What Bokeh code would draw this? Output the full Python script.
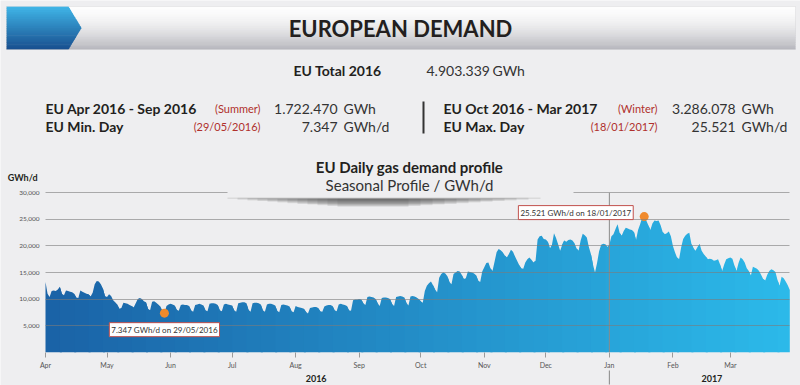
import pandas as pd
from bokeh.plotting import figure
from bokeh.models import (Range1d, FixedTicker, NumeralTickFormatter, DatetimeTickFormatter,
                          Label, BoxAnnotation, PolyAnnotation, ColumnDataSource)
from bokeh.embed import file_html
from bokeh.resources import INLINE

# ---------------- data (GWh/d, daily, from 1 Apr 2016) ----------------
start_date = "2016-04-01"
demand_apr = [13200, 11000, 10400, 11500, 11600, 11500, 11800, 12300, 11000, 10700,
              11600, 11500, 11400, 11300, 11000, 10300, 10200, 11600, 11400, 11200,
              11000, 10900, 10500, 11200, 12800, 13400, 13300, 12800, 12000, 10600]
demand_may = [10400, 10900, 10600, 9800, 9400, 9000, 8200, 8300, 9300, 9200,
              9100, 8900, 8700, 8400, 9200, 10000, 10200, 10000, 9600, 9400,
              8200, 7900, 9500, 9600, 9300, 9000, 8600, 7700, 7347, 8700, 9000]
demand_jun = [9100, 9000, 8800, 8000, 7800, 8900, 9000, 8900, 8900, 8700,
              7900, 7600, 8900, 9000, 9100, 9000, 8800, 7900, 7700, 9100,
              9200, 9200, 9100, 8900, 7900, 7700, 9000, 9100, 9000, 8900]
demand_jul = [8800, 7900, 7600, 9200, 9300, 9400, 9400, 9200, 8000, 7600,
              9200, 9300, 9300, 9200, 9000, 7900, 7600, 9000, 9100, 9100,
              9000, 8800, 7800, 7500, 8900, 9000, 8900, 8800, 8600, 7700, 7500]
demand_aug = [8700, 8500, 8400, 8300, 8200, 7600, 7300, 8300, 8400, 8500,
              8500, 8300, 7700, 7600, 8600, 8800, 8900, 8900, 8700, 7900,
              7700, 9000, 9100, 9000, 8900, 8700, 7900, 7800, 9800, 9900, 9900]
demand_sep = [10000, 9900, 9200, 8900, 10400, 10500, 10400, 10300, 10000, 9200,
              8700, 10200, 10300, 10300, 10200, 10000, 9100, 8700, 10400, 10500,
              10600, 10500, 10300, 9300, 8800, 10500, 10600, 10500, 10300, 10000]
demand_oct = [9600, 9300, 11500, 12500, 13000, 13300, 12600, 11800, 11300, 14000,
              14700, 15000, 14800, 14300, 13200, 12800, 14700, 15000, 15300, 15200,
              14600, 13800, 13900, 15200, 15100, 15000, 14800, 14500, 13500, 13200, 15200]
demand_nov = [16000, 16800, 16900, 15800, 15300, 17000, 18800, 19400, 19200, 18800,
              18200, 17800, 18500, 19300, 18900, 18000, 17200, 16400, 15800, 15700,
              16900, 17500, 17800, 17400, 16900, 17200, 21200, 21800, 21900, 21300]
demand_dec = [21200, 20800, 19500, 20200, 22400, 21500, 20300, 19100, 20200, 21000,
              20800, 21100, 21200, 21000, 20500, 19500, 19100, 21000, 22300, 22000,
              21600, 19800, 18500, 16500, 15000, 16800, 19000, 20200, 20400, 20300, 19800]
demand_jan = [20200, 21800, 22200, 23200, 24100, 22500, 21900, 22800, 23400, 23300,
              23100, 23000, 22600, 21100, 23000, 24100, 25300, 25521, 24800, 23900,
              23000, 24200, 24800, 24700, 24800, 23900, 22600, 22200, 22400, 22700, 21800]
demand_feb = [20000, 18800, 17800, 17500, 19700, 21300, 21900, 22300, 22500, 20400,
              19600, 19100, 19800, 20400, 19100, 18500, 18000, 17500, 17600, 17500,
              17200, 17300, 17500, 16500, 15300, 16500, 17500, 17700]
demand_mar = [17800, 17600, 16300, 15300, 16800, 17800, 17500, 16900, 15800, 15300,
              14400, 16100, 15900, 15700, 15300, 14600, 13800, 13500, 14600, 15300,
              15600, 15400, 15100, 13600, 12500, 14200, 13900, 13300, 12600, 11700]

y_ticks = [5000, 10000, 15000, 20000, 25000, 30000]
month_tick_dates = ["2016-04-01", "2016-05-01", "2016-06-01", "2016-07-01", "2016-08-01",
                    "2016-09-01", "2016-10-01", "2016-11-01", "2016-12-01", "2017-01-01",
                    "2017-02-01", "2017-03-01"]
year_labels = ["2016", "2017"]
year_label_dates = ["2016-08-11", "2017-02-20"]
year_break = "2017-01-01"

max_date, max_value = "2017-01-18", 25521
min_date, min_value = "2016-05-29", 7347
max_text = "25.521 GWh/d on 18/01/2017"
min_text = "7.347 GWh/d on 29/05/2016"

header_title = "EUROPEAN DEMAND"
total_label, total_value, total_unit = "EU Total 2016", "4.903.339", "GWh"
summer_label, summer_tag, summer_value, summer_unit = "EU Apr 2016 - Sep 2016", "(Summer)", "1.722.470", "GWh"
minday_label, minday_tag, minday_value, minday_unit = "EU Min. Day", "(29/05/2016)", "7.347", "GWh/d"
winter_label, winter_tag, winter_value, winter_unit = "EU Oct 2016 - Mar 2017", "(Winter)", "3.286.078", "GWh"
maxday_label, maxday_tag, maxday_value, maxday_unit = "EU Max. Day", "(18/01/2017)", "25.521", "GWh/d"
chart_title = "EU Daily gas demand profile"
chart_subtitle = "Seasonal Profile / GWh/d"
y_unit = "GWh/d"

demand = (demand_apr + demand_may + demand_jun + demand_jul + demand_aug + demand_sep +
          demand_oct + demand_nov + demand_dec + demand_jan + demand_feb + demand_mar)
dates = pd.date_range(start_date, periods=len(demand), freq="D")


def ms(d):
    return pd.Timestamp(d).value / 1e6


# ---------------- layout ----------------
BG = "#eeeef0"
FONT = "Lato"
DARK = "#231f20"
TXT = "#333333"
RED = "#b0302c"
W, H = 800, 385
# pixel positions of the chart's data extent inside the canvas
PX_L, PX_R = 45.0, 789.3     # first / last day
PY_B, PY_T = 351.7, 192.3    # 0 / 30000

x0, x1 = ms(dates[0]), ms(dates[-1])
xs_per_px = (x1 - x0) / (PX_R - PX_L)
ys_per_px = y_ticks[-1] / (PY_B - PY_T)

p = figure(width=W, height=H, x_axis_type="datetime", output_backend="svg",
           toolbar_location=None,
           x_range=Range1d(x0 - PX_L * xs_per_px, x1 + (W - PX_R) * xs_per_px),
           y_range=Range1d(-(H - PY_B) * ys_per_px, y_ticks[-1] + PY_T * ys_per_px),
           min_border_left=0, min_border_right=0, min_border_top=0, min_border_bottom=0,
           background_fill_color=BG, border_fill_color=BG, outline_line_color=None)
p.xgrid.visible = False
p.ygrid.visible = False


def sx(X):
    return X


def sy(Y):
    return H - Y


# area with horizontal colour gradient (drawn in chunks)
c0 = (26, 98, 166)
c1 = (44, 186, 234)
n = len(demand)
step = 7
for i in range(0, n - 1, step):
    j = min(i + step + 2, n)
    t = (i + step / 2) / n
    col = "#%02x%02x%02x" % tuple(int(round(a + (b - a) * t)) for a, b in zip(c0, c1))
    src = ColumnDataSource(dict(x=dates[i:j], y=demand[i:j]))
    p.varea(x="x", y1=0, y2="y", source=src, fill_color=col, fill_alpha=1.0)

# y axis: labels left of the chart, long inward ticks act as grid lines
p.yaxis.fixed_location = x0
p.yaxis.ticker = FixedTicker(ticks=y_ticks)
p.yaxis.formatter = NumeralTickFormatter(format="0,0")
p.yaxis.axis_line_color = None
p.yaxis.major_tick_line_color = "#7c7c7c"
p.yaxis.major_tick_line_alpha = 0.6
p.yaxis.major_tick_in = int(round(PX_R - PX_L))
p.yaxis.major_tick_out = 0
p.yaxis.minor_tick_line_color = None
p.yaxis.major_label_text_font_size = "6.5px"
p.yaxis.major_label_text_color = "#555555"
p.yaxis.major_label_text_font = FONT
p.yaxis.major_label_standoff = 6

p.xaxis.fixed_location = 0
p.xaxis.ticker = FixedTicker(ticks=[ms(d) for d in month_tick_dates])
p.xaxis.formatter = DatetimeTickFormatter(days="%b", months="%b", years="%b", hours="%b")
p.xaxis.axis_line_color = None
p.xaxis.major_tick_line_color = "#9a9a9a"
p.xaxis.major_tick_out = 5
p.xaxis.major_tick_in = 0
p.xaxis.minor_tick_line_color = None
p.xaxis.major_label_text_font_size = "7px"
p.xaxis.major_label_text_color = "#555555"
p.xaxis.major_label_text_font = FONT
p.xaxis.major_label_standoff = 4

# year divider
p.segment(x0=[ms(year_break)], y0=[0], x1=[ms(year_break)], y1=[y_ticks[-1]],
          line_color="#8a8a8a", line_width=1)
p.add_layout(BoxAnnotation(left=ms(year_break) - 0.25 * 86400000, right=ms(year_break) + 0.25 * 86400000,
                           top=sy(370), bottom=sy(384), top_units="screen", bottom_units="screen",
                           fill_color="#8a8a8a", fill_alpha=1, line_color=None, level="overlay"))

# min / max markers
p.scatter(x=[ms(max_date), ms(min_date)], y=[max_value, min_value], size=9,
          fill_color="#f08a2c", line_color=None)
p.add_layout(Label(x=ms(max_date), y=max_value, x_offset=-11, y_offset=4, text=max_text,
                   text_align="right", text_baseline="middle", text_font=FONT,
                   text_font_size="8px", text_color=TXT,
                   background_fill_color="white", border_line_color="#c0504d",
                   border_line_width=1, padding=2, level="overlay"))
p.add_layout(Label(x=ms(min_date), y=min_value, y_offset=-16.5, text=min_text,
                   text_align="center", text_baseline="middle", text_font=FONT,
                   text_font_size="8px", text_color=TXT,
                   background_fill_color="white", border_line_color="#c0504d",
                   border_line_width=1, padding=2, level="overlay"))


def box(X0, X1, Y0, Y1, color, alpha=1.0, line=None):
    p.add_layout(BoxAnnotation(left=sx(X0), right=sx(X1), top=sy(Y0), bottom=sy(Y1),
                               left_units="screen", right_units="screen",
                               top_units="screen", bottom_units="screen",
                               fill_color=color, fill_alpha=alpha, line_color=line,
                               level="overlay"))


def mix(ca, cb, t):
    return "#%02x%02x%02x" % tuple(int(round(a + (b - a) * t)) for a, b in zip(ca, cb))


# ---------------- banner ----------------
BX0, BX1 = 6, 795
BY0, BY1 = 6.0, 49.0
NS = 24
hs = (BY1 - BY0) / NS
for k in range(NS):
    y0 = BY0 + k * hs
    t = (k + 0.5) / NS
    box(BX0, BX1, y0, min(y0 + hs + 0.7, BY1), mix((253, 253, 253), (182, 182, 188), t ** 1.7))


def xe(Y):
    return 68 + 13 * (1 - abs(Y - 27.5) / 21.5)


for k in range(NS):
    y0 = BY0 + k * hs
    y1 = min(y0 + hs + 0.7, BY1)
    t = (k + 0.5) / NS
    xs = [BX0, xe(y0)]
    ys = [y0, y0]
    if y0 < 27.5 < y1:
        xs.append(81)
        ys.append(27.5)
    xs += [xe(y1), BX0]
    ys += [y1, y1]
    p.add_layout(PolyAnnotation(xs=[sx(v) for v in xs], ys=[sy(v) for v in ys],
                                xs_units="screen", ys_units="screen",
                                fill_color=mix((64, 182, 232), (24, 78, 142), t), fill_alpha=1,
                                line_color=None, level="overlay"))
box(BX0, BX1, BY0, BY1, None, 0, "#c6c6ca")


def text(s, X, Y, size, bold=False, color=DARK, align="left"):
    p.add_layout(Label(x=sx(X), y=sy(Y), x_units="screen", y_units="screen", text=s,
                       text_font=FONT, text_font_size="%spx" % size,
                       text_font_style="bold" if bold else "normal",
                       text_color=color, text_align=align, text_baseline="middle",
                       level="overlay"))


text(header_title, 400, 28, 22, bold=True, align="center")

# ---------------- stats ----------------
text(total_label, 293, 70, 14, bold=True)
text(total_value, 426, 70, 14, color=TXT)
text(total_unit, 492, 70, 14, color=TXT)

text(summer_label, 45, 108, 14, bold=True)
text(summer_tag, 260, 108, 11, color=RED, align="right")
text(summer_value, 337, 108, 14, color=TXT, align="right")
text(summer_unit, 343, 108, 14, color=TXT)
text(minday_label, 45, 126, 14, bold=True)
text(minday_tag, 260, 126, 11, color=RED, align="right")
text(minday_value, 337, 126, 14, color=TXT, align="right")
text(minday_unit, 343, 126, 14, color=TXT)

box(422, 424, 101, 133, "#333333")
text(winter_label, 443, 108, 14, bold=True)
text(winter_tag, 657, 108, 11, color=RED, align="right")
text(winter_value, 735, 108, 14, color=TXT, align="right")
text(winter_unit, 741, 108, 14, color=TXT)
text(maxday_label, 443, 126, 14, bold=True)
text(maxday_tag, 657, 126, 11, color=RED, align="right")
text(maxday_value, 735, 126, 14, color=TXT, align="right")
text(maxday_unit, 741, 126, 14, color=TXT)

# ---------------- chart title block ----------------
box(227, 573, 148, 198, BG)
for k in range(12):
    box(227 + k * 10, 540 - k * 12, 197.0 + min(k, 4) * 0.3, 198.5 + k * 0.7, "#4a4a4a", 0.12)
text(chart_title, 409, 166, 15, bold=True, align="center")
text(chart_subtitle, 409, 184, 15, color=TXT, align="center")

text(y_unit, 37, 177, 9, bold=True, align="right")
for lbl, d in zip(year_labels, year_label_dates):
    p.add_layout(Label(x=ms(d), y=sy(378), y_units="screen", text=lbl, text_font=FONT,
                       text_font_size="9px", text_font_style="bold", text_color=DARK,
                       text_align="center", text_baseline="middle", level="overlay"))

open("out.html", "w").write(file_html(p, INLINE))
